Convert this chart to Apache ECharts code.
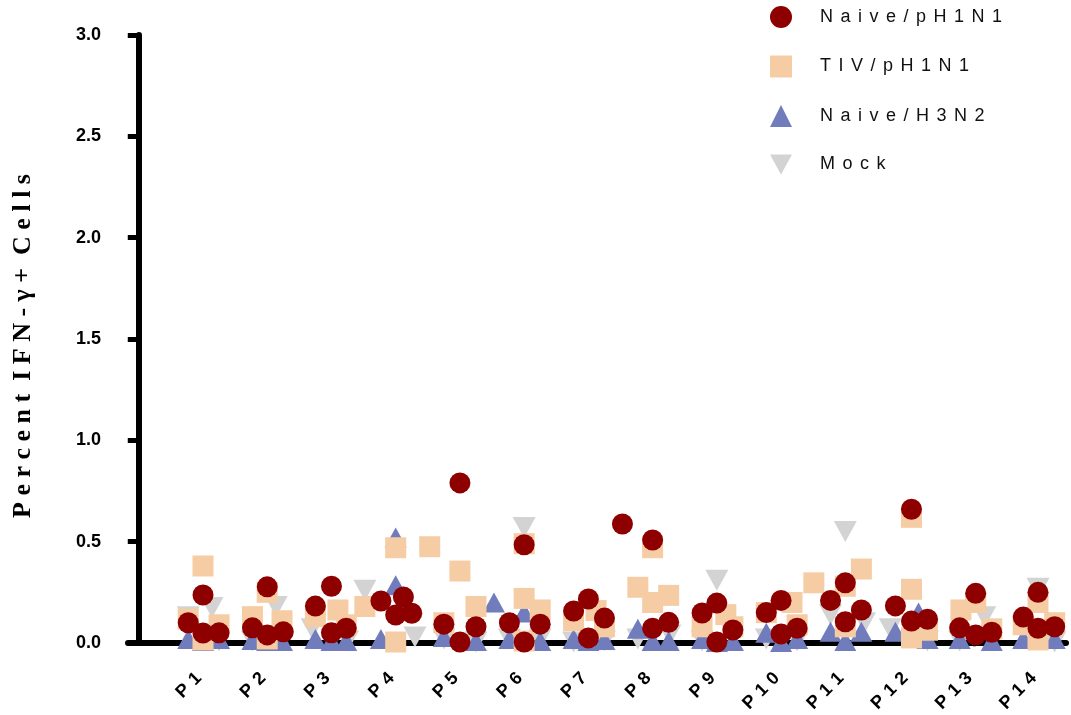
<!DOCTYPE html>
<html>
<head>
<meta charset="utf-8">
<title>Percent IFN-γ+ Cells by patient</title>
<script src="https://cdn.jsdelivr.net/npm/echarts@6/dist/echarts.min.js"></script>
<style>
  html, body { margin: 0; padding: 0; background: #fff; }
  #chart { width: 1071px; height: 715px; }
</style>
</head>
<body>
<div id="chart"></div>
<script>
// Patients on the x axis
const patients = ['P1', 'P2', 'P3', 'P4', 'P5', 'P6', 'P7', 'P8', 'P9', 'P10', 'P11', 'P12', 'P13', 'P14'];

// Y axis range and step (percent of cells)
const yMin = 0;
const yMax = 3.0;
const yStep = 0.5;

// Series names, in legend order
const seriesNames = ['Naive/pH1N1', 'TIV/pH1N1', 'Naive/H3N2', 'Mock'];

// Percent IFN-γ+ cells per patient (one inner list per patient)
const naivePH1N1 = [
  [0.10, 0.237, 0.049, 0.05], [0.277, 0.075, 0.04, 0.055], [0.28, 0.182, 0.05, 0.073],
  [0.207, 0.227, 0.138, 0.147], [0.79, 0.093, 0.005, 0.08], [0.485, 0.10, 0.093, 0.005],
  [0.217, 0.158, 0.123, 0.025], [0.587, 0.508, 0.073, 0.102], [0.197, 0.148, 0.064, 0.005],
  [0.21, 0.15, 0.045, 0.073], [0.297, 0.21, 0.163, 0.105], [0.66, 0.183, 0.108, 0.117],
  [0.245, 0.075, 0.04, 0.053], [0.25, 0.128, 0.073, 0.08]
];
const tivPH1N1 = [
  [0.38, 0.118, 0.09, 0.015], [0.25, 0.13, 0.11, 0.02], [0.163, 0.13, 0.09],
  [0.47, 0.475, 0.18, 0.005], [0.355, 0.18, 0.10], [0.49, 0.22, 0.163, 0.01],
  [0.11, 0.16, 0.08], [0.47, 0.275, 0.20, 0.235], [0.08, 0.14, 0.08],
  [0.15, 0.20, 0.09, 0.297], [0.365, 0.28, 0.08], [0.62, 0.265, 0.025, 0.063],
  [0.163, 0.20, 0.07], [0.20, 0.09, 0.10, 0.015]
];
const naiveH3N2 = [
  [0.02, 0.02, 0.01], [0.015, 0.01, 0.01], [0.02, 0.01, 0.01],
  [0.52, 0.285, 0.02], [0.03, 0.01, 0.20], [0.15, 0.02, 0.01],
  [0.02, 0.01, 0.015], [0.07, 0.01, 0.01], [0.02, 0.01, 0.005],
  [0.05, 0.005, 0.02], [0.055, 0.055, 0.01], [0.055, 0.02, 0.15],
  [0.02, 0.01], [0.02, 0.02]
];
const mock = [
  [0.175, 0.13, 0.01], [0.18, 0.01], [0.07, 0.01],
  [0.26, 0.03], [0.02, 0.005], [0.57, 0.02, 0.02],
  [0.005, 0.01], [0.02, 0.04], [0.31, 0.01],
  [0.02, 0.01], [0.55, 0.14, 0.10], [0.07, 0.01],
  [0.13, 0.01], [0.27, 0.005]
];

// Horizontal scatter of each point around its patient (in patient units)
const naivePH1N1Jitter = [
  [-0.23, 0, 0, 0.25], [0, -0.23, 0, 0.25], [0, -0.25, 0, 0.23],
  [-0.23, 0.12, 0, 0.25], [0, -0.25, 0, 0.25], [0, -0.23, 0.25, 0],
  [0, -0.23, 0.25, 0], [-0.47, 0, 0, 0.25], [0, -0.23, 0.25, 0],
  [0, -0.23, 0, 0.25], [0, -0.23, 0.25, 0], [0.03, -0.22, 0.03, 0.28],
  [0.03, -0.22, 0.03, 0.28], [0, -0.23, 0, 0.26]
];
const tivPH1N1Jitter = [
  [0, -0.23, 0.25, 0], [0, -0.23, 0.23, 0], [0.1, -0.25, 0.23],
  [0, 0.53, -0.48, 0], [0, 0.25, -0.25], [0, 0, 0.25, 0],
  [-0.23, 0.12, 0.25], [0, -0.23, 0, 0.25], [-0.23, 0.14, 0.25],
  [-0.23, 0.17, 0.25, 0.51], [0.25, 0, 0], [0.03, 0.03, 0.03, 0.28],
  [-0.2, 0.03, 0.28], [0, -0.23, 0.26, 0]
];
const naiveH3N2Jitter = [
  [-0.23, 0.25, 0], [-0.23, 0.23, 0], [-0.25, 0, 0.23],
  [0, 0, -0.23], [-0.25, 0.25, 0.53], [0, -0.23, 0.25],
  [-0.23, 0, 0.25], [-0.23, 0, 0.25], [-0.23, 0.25, 0],
  [-0.23, 0, 0.25], [-0.23, 0.25, 0], [-0.22, 0.28, 0.14],
  [-0.22, 0.28], [-0.23, 0.26]
];
const mockJitter = [
  [0.14, -0.23, 0.25], [0.14, -0.23], [-0.3, 0.25],
  [-0.48, 0.3], [-0.25, 0.25], [0, -0.23, 0.25],
  [-0.23, 0.25], [-0.23, 0.27], [0, -0.23],
  [-0.23, 0.25], [0, -0.23, 0.3], [-0.3, 0.28],
  [0.17, -0.22], [0, 0.26]
];

// Turn per-patient lists into [x, y] points on the patient value axis
function toPoints(values, jitter) {
  const out = [];
  values.forEach((list, i) => {
    list.forEach((v, k) => out.push([i + 1 + jitter[i][k], v]));
  });
  return out;
}

// Widen text by putting a gap between its letters
function spread(text, gap, wordGap) {
  return text.split(' ').map(w => w.split('').join(gap)).join(wordGap);
}

const DOWN_TRIANGLE = 'path://M0,0 L22,0 L11,20 Z';

const chart = echarts.init(document.getElementById('chart'), null, { renderer: 'canvas' });

// Plot area: the axis line spans 128..1066 px, patients sit every ~64.2 px from 203 px
const plotLeft = 128, plotRight = 5, plotTop = 35, plotBottom = 72;
const firstCenter = 203, lastCenter = 1038;
const step = (lastCenter - firstCenter) / (patients.length - 1);
const xMin = 1 - (firstCenter - plotLeft) / step;
const xMax = patients.length + (1071 - plotRight - lastCenter) / step;

const option = {
  backgroundColor: '#fff',
  animation: false,
  grid: [
    { left: plotLeft, right: plotRight, top: plotTop, bottom: plotBottom, containLabel: false },
    { left: firstCenter - step / 2, right: 1071 - (lastCenter + step / 2), top: plotTop, bottom: plotBottom, containLabel: false }
  ],
  legend: {
    orient: 'vertical',
    left: 765,
    top: 1,
    itemWidth: 22,
    itemHeight: 22,
    itemGap: 27.5,
    data: seriesNames,
    formatter: name => spread(name, '\u2005\u2006', '  '),
    textStyle: {
      fontFamily: 'Liberation Sans, Arial, sans-serif',
      fontSize: 18,
      color: '#111',
      padding: [0, 0, 0, 23]
    }
  },
  xAxis: [
    {
      type: 'value',
      gridIndex: 0,
      min: xMin,
      max: xMax,
      axisLine: { show: true, onZero: false, lineStyle: { color: '#000', width: 6 } },
      axisTick: { show: false },
      axisLabel: { show: false },
      splitLine: { show: false }
    },
    {
      type: 'category',
      gridIndex: 1,
      data: patients,
      boundaryGap: true,
      axisLine: { show: false },
      axisTick: { show: true, alignWithLabel: true, length: 6, lineStyle: { color: '#000', width: 3 } },
      axisLabel: {
        rotate: 45,
        margin: 31,
        interval: 0,
        padding: [0, 6, 0, 0],
        formatter: v => spread(v, '\u2005\u200A', ' '),
        fontFamily: 'Liberation Sans, Arial, sans-serif',
        fontWeight: 'bold',
        fontSize: 18,
        color: '#000'
      },
      splitLine: { show: false }
    }
  ],
  yAxis: [
    {
      type: 'value',
      gridIndex: 0,
      min: yMin,
      max: yMax,
      interval: yStep,
      name: spread('Percent IFN-γ+ Cells', ' ', '  '),
      nameLocation: 'middle',
      nameGap: 92,
      nameRotate: 90,
      nameTextStyle: {
        fontFamily: 'Liberation Serif, Times New Roman, serif',
        fontWeight: 'bold',
        fontSize: 26,
        color: '#000',
        padding: [0, 14, 0, 0]
      },
      axisLine: { show: true, lineStyle: { color: '#000', width: 6 } },
      axisTick: { show: true, length: 11, lineStyle: { color: '#000', width: 5 } },
      axisLabel: {
        margin: 27,
        formatter: v => v.toFixed(1),
        fontFamily: 'Liberation Sans, Arial, sans-serif',
        fontWeight: 'bold',
        fontSize: 18,
        color: '#000'
      },
      splitLine: { show: false }
    },
    {
      type: 'value',
      gridIndex: 1,
      min: yMin,
      max: yMax,
      show: false
    }
  ],
  series: [
    {
      name: 'Mock',
      type: 'scatter',
      xAxisIndex: 0, yAxisIndex: 0,
      clip: false,
      z: 2,
      symbol: DOWN_TRIANGLE,
      symbolSize: [23, 21],
      itemStyle: { color: '#D3D3D3', opacity: 1 },
      data: toPoints(mock, mockJitter)
    },
    {
      name: 'Naive/H3N2',
      type: 'scatter',
      xAxisIndex: 0, yAxisIndex: 0,
      clip: false,
      z: 3,
      symbol: 'triangle',
      symbolSize: [22, 20],
      itemStyle: { color: '#717CBC', opacity: 1 },
      data: toPoints(naiveH3N2, naiveH3N2Jitter)
    },
    {
      name: 'TIV/pH1N1',
      type: 'scatter',
      xAxisIndex: 0, yAxisIndex: 0,
      clip: false,
      z: 4,
      symbol: 'rect',
      symbolSize: 21,
      itemStyle: { color: '#F6CCA5', opacity: 1 },
      data: toPoints(tivPH1N1, tivPH1N1Jitter)
    },
    {
      name: 'Naive/pH1N1',
      type: 'scatter',
      xAxisIndex: 0, yAxisIndex: 0,
      clip: false,
      z: 5,
      symbol: 'circle',
      symbolSize: 21,
      itemStyle: { color: '#8E0000', opacity: 1 },
      data: toPoints(naivePH1N1, naivePH1N1Jitter)
    }
  ]
};

chart.setOption(option);
</script>
</body>
</html>
